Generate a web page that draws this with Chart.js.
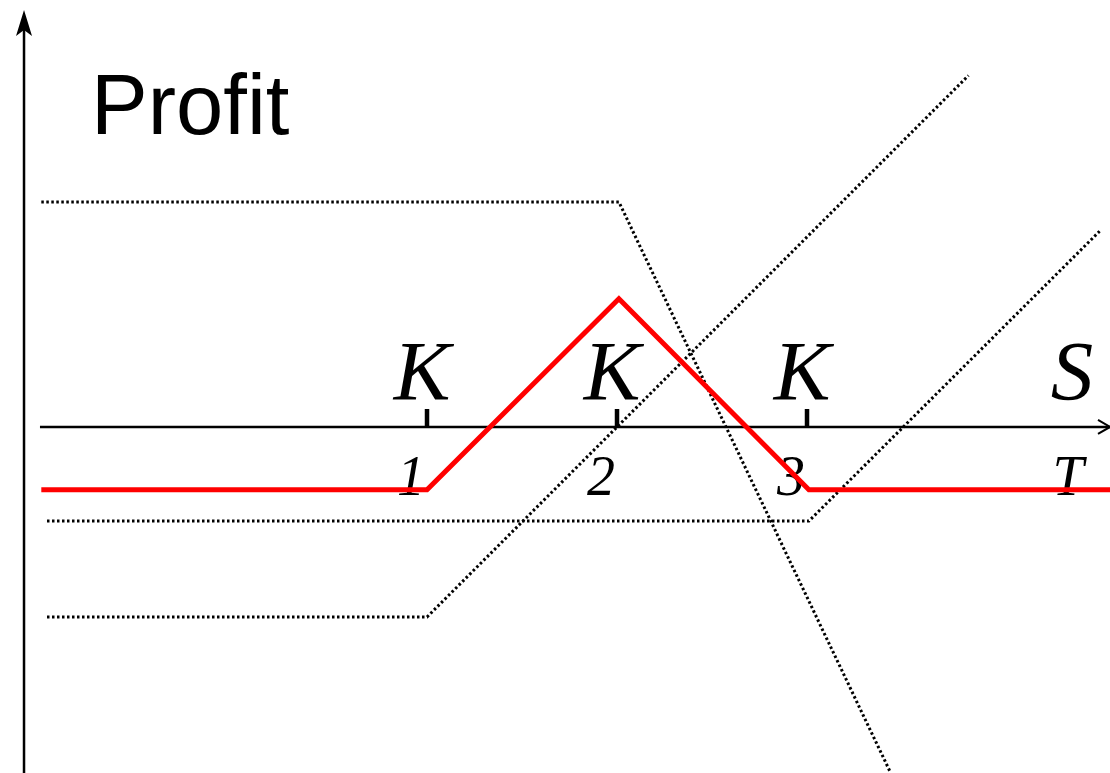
<!DOCTYPE html>
<html>
<head>
<meta charset="utf-8">
<title>Butterfly spread profit</title>
<script src="https://cdn.jsdelivr.net/npm/chart.js@4/dist/chart.umd.min.js"></script>
<style>
  html, body { margin: 0; padding: 0; background: #fff; }
  canvas { display: block; }
</style>
</head>
<body>
<canvas id="chart" width="1110" height="773"></canvas>
<script>
// strikes and payoff pieces (price units, profit units)
const strikes = [40, 50, 60];
const strikeSubs = ["1", "2", "3"];

const longCallK1 = [[20, -10], [40, -10], [68.5, 18.5]];
const shortCallsK2 = [[19.7, 11.84], [50.1, 11.84], [64.4, -18.2]];
const longCallK3 = [[20, -4.95], [60.1, -4.95], [75.4, 10.3]];
const butterfly = [[19.7, -3.3], [40, -3.3], [50.1, 6.75], [60.1, -3.3], [76, -3.3]];

const xRange = [17.526, 75.947];
const yRange = [-18.21, 22.47];
const axisStart = { x: 18.79, y: 19.63 };

function toPts(arr) {
  return arr.map((p) => ({ x: p[0], y: p[1] }));
}

const axesPlugin = {
  id: "axes",
  beforeDatasetsDraw(chart) {
    const ctx = chart.ctx;
    const xs = chart.scales.x;
    const ys = chart.scales.y;
    const x0 = xs.getPixelForValue(axisStart.x);
    const y0 = ys.getPixelForValue(0);
    ctx.save();
    ctx.strokeStyle = "#000";
    ctx.fillStyle = "#000";
    ctx.lineWidth = 2.5;
    // vertical axis
    ctx.beginPath();
    ctx.moveTo(x0, chart.height);
    ctx.lineTo(x0, 20);
    ctx.stroke();
    ctx.beginPath();
    ctx.moveTo(x0, 10);
    ctx.lineTo(x0 + 8, 36);
    ctx.lineTo(x0, 30);
    ctx.lineTo(x0 - 8, 36);
    ctx.closePath();
    ctx.fill();
    // horizontal axis
    const hx = xs.getPixelForValue(axisStart.y);
    ctx.beginPath();
    ctx.moveTo(hx, y0);
    ctx.lineTo(chart.width, y0);
    ctx.stroke();
    ctx.lineWidth = 2;
    ctx.beginPath();
    ctx.moveTo(chart.width - 12, y0 - 7);
    ctx.lineTo(chart.width, y0);
    ctx.lineTo(chart.width - 12, y0 + 7);
    ctx.stroke();
    // strike ticks
    ctx.lineWidth = 4.5;
    strikes.forEach((k) => {
      const px = xs.getPixelForValue(k);
      ctx.beginPath();
      ctx.moveTo(px, y0 - 18);
      ctx.lineTo(px, y0);
      ctx.stroke();
    });
    // labels
    ctx.textAlign = "center";
    ctx.textBaseline = "alphabetic";
    ctx.font = "italic 85px 'Liberation Serif', 'DejaVu Serif', serif";
    strikes.forEach((k) => {
      ctx.fillText("K", xs.getPixelForValue(k) - 5, y0 - 27);
    });
    ctx.fillText("S", 1072, y0 - 27);
    ctx.font = "italic 56px 'Liberation Serif', 'DejaVu Serif', serif";
    strikes.forEach((k, i) => {
      ctx.fillText(strikeSubs[i], xs.getPixelForValue(k) - 16, y0 + 68);
    });
    ctx.fillText("T", 1068, y0 + 68);
    ctx.textAlign = "left";
    ctx.font = "85px 'Liberation Sans', Arial, sans-serif";
    ctx.fillText("Profit", 91, 134);
    ctx.restore();
  }
};

const dotted = {
  borderColor: "#000",
  borderWidth: 3,
  borderDash: [2.5, 2.5],
  pointRadius: 0,
  fill: false,
  tension: 0
};

new Chart(document.getElementById("chart"), {
  type: "line",
  data: {
    datasets: [
      {
        label: "Butterfly",
        data: toPts(butterfly),
        borderColor: "#ff0000",
        borderWidth: 5,
        pointRadius: 0,
        fill: false,
        tension: 0
      },
      Object.assign({ label: "Long call K1", data: toPts(longCallK1) }, dotted),
      Object.assign({ label: "Short 2 calls K2", data: toPts(shortCallsK2) }, dotted),
      Object.assign({ label: "Long call K3", data: toPts(longCallK3) }, dotted)
    ]
  },
  options: {
    responsive: false,
    animation: false,
    layout: { padding: 0 },
    plugins: { legend: { display: false }, tooltip: { enabled: false } },
    scales: {
      x: { type: "linear", min: xRange[0], max: xRange[1], display: false },
      y: { type: "linear", min: yRange[0], max: yRange[1], display: false }
    }
  },
  plugins: [axesPlugin]
});
</script>
</body>
</html>
